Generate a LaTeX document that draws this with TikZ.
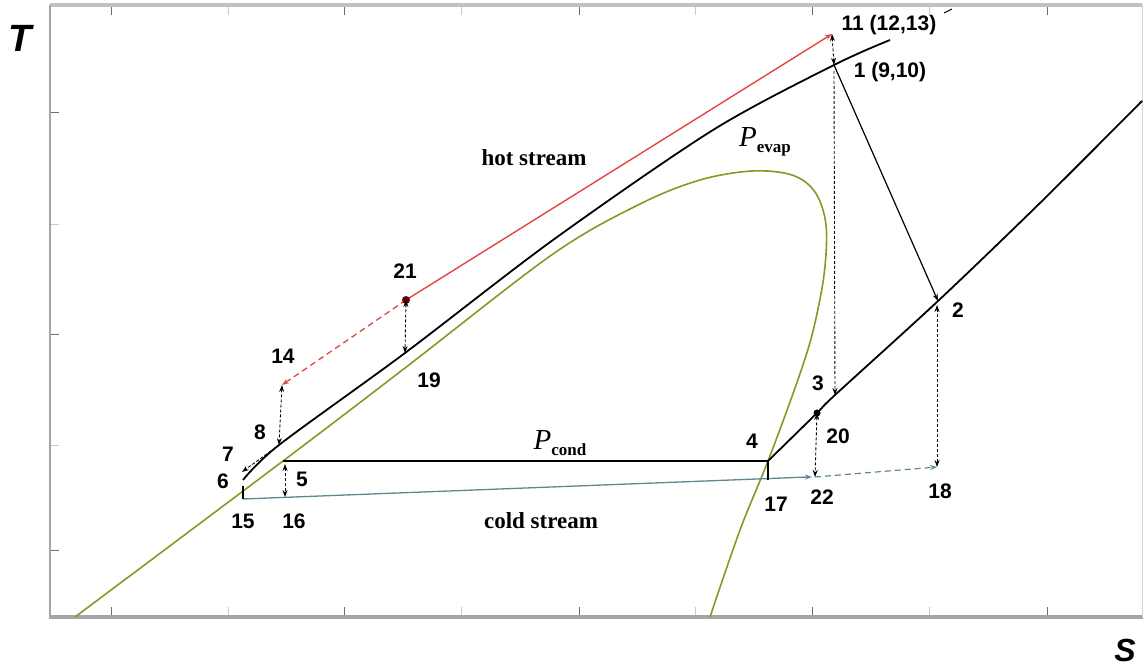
\documentclass[tikz,border=0pt]{standalone}
\usepackage{fontspec}
\setmainfont{Liberation Serif}
\newfontfamily\labfont{Liberation Sans}
\usetikzlibrary{arrows.meta}
\definecolor{domec}{RGB}{140,150,35}
\definecolor{hotc}{RGB}{225,70,70}
\definecolor{coldc}{RGB}{95,135,145}
\definecolor{axisc}{RGB}{165,165,165}
\definecolor{tickc}{RGB}{110,110,110}
\begin{document}
\begin{tikzpicture}[x=1pt,y=-1pt,
  lbl/.style={font=\labfont\bfseries\fontsize{21}{24}\selectfont, inner sep=0pt},
  ser/.style={font=\bfseries\fontsize{23}{26}\selectfont, inner sep=0pt},
  tip/.style={-{Stealth[length=7pt,width=5pt]}},
  dtip/.style={{Stealth[length=7pt,width=5pt]}-{Stealth[length=7pt,width=5pt]}},
  dots/.style={dash pattern=on 3pt off 2pt, line width=0.9pt},
  curve/.style={line width=1.8pt},
  tick/.style={tickc, line width=1pt},
  ftick/.style={axisc!60, line width=1pt}]
\useasboundingbox (0,0) rectangle (1144,668);
% frame
\draw[axisc!70, line width=4pt] (50,5) -- (1142,5);
\draw[axisc, line width=2pt] (50,5) -- (50,617);
\draw[axisc, line width=4pt] (49,617) -- (1143,617);
\draw[axisc!50, line width=1pt] (1142,5) -- (1142,617);
% ticks
\foreach \x in {111,344,579,812,1047}{\draw[tick] (\x,7) -- (\x,15); \draw[tick] (\x,615) -- (\x,607);}
\foreach \x in {228,461,695,929}{\draw[ftick] (\x,7) -- (\x,15); \draw[ftick] (\x,615) -- (\x,607);}
\foreach \y in {113,335,550}{\draw[tick] (51,\y) -- (59,\y);}
\foreach \y in {225,445}{\draw[ftick] (51,\y) -- (59,\y);}
% points
\coordinate (n1) at (834,65);
\coordinate (n11) at (832,34);
\coordinate (n2) at (938,301);
\coordinate (n3) at (835,395);
\coordinate (n4) at (768,461);
\coordinate (n5) at (283,461);
\coordinate (n6) at (243,480);
\coordinate (n8) at (279,445);
\coordinate (n14) at (282,385);
\coordinate (n15) at (243,499);
\coordinate (n15t) at (243,486);
\coordinate (n16) at (285,497);
\coordinate (n16t) at (285,464);
\coordinate (n17) at (768,480);
\coordinate (n18) at (937,467);
\coordinate (n18t) at (937,305);
\coordinate (n19) at (405,353);
\coordinate (n20) at (817,413);
\coordinate (n21) at (406,300);
\coordinate (n22) at (815,477);
\coordinate (n22s) at (808,477);
\coordinate (n1b) at (834,71);
\coordinate (n7e) at (242,472);
% saturation dome
\draw[domec, line width=1.6pt] plot[smooth, tension=0.55] coordinates {(75,617) (283,461) (405,368) (553,254) (640,204) (700,180) (752,171) (792,175) (815,192) (826,225) (824,275) (812,335) (795,388) (768,461) (740,530) (710,617)};
% cold stream
\draw[coldc, line width=1.3pt] (n15) -- (n22s);
\draw[coldc, line width=1.3pt, tip] (n22s) -- ++(4,0);
\draw[coldc, line width=1.2pt, dash pattern=on 6pt off 4pt, tip] (n22) -- (n18);
\draw[black, line width=1.3pt] (n15t) -- (n15);
\draw[black, line width=1.3pt] (n4) -- (n17);
% Pcond
\draw[black, line width=1.6pt] (n5) -- (n4);
% high pressure line
\draw[black, curve] plot[smooth, tension=0.5] coordinates {(n6) (n8) (n19) (553,240) (713,130) (n1) (890,40)};
% low pressure line
\draw[black, curve] plot[smooth, tension=0.5] coordinates {(n4) (n20) (n3) (n2) (1040,203) (1142,101)};
\draw[black, line width=1pt] (944,13) -- (952,9);
% hot stream
\draw[hotc, line width=1.4pt, tip] (n21) -- (n11);
\draw[hotc, line width=1.3pt, dash pattern=on 6pt off 4pt, tip] (n21) -- (n14);
\fill[black!60!red] (n21) circle (4pt);
\fill[black] (n20) circle (3.5pt);
% expansion
\draw[black, line width=1.2pt, tip] (n1) -- (n2);
% dotted arrows
\draw[dots, dtip] (n11) -- (n1);
\draw[dots, tip] (n1b) -- (n3);
\draw[dots, dtip] (n21) -- (n19);
\draw[dots, dtip] (n14) -- (n8);
\draw[dots, tip] (n8) -- (n7e);
\draw[dots, dtip] (n16t) -- (n16);
\draw[dots, dtip] (n20) -- (n22);
\draw[dots, dtip] (n18t) -- (n18);
% labels
\node[lbl] (l11) at (889,25) {11 (12,13)};
\node[lbl] (l1) at (890,72) {1 (9,10)};
\node[lbl] (l2) at (958,310) {2};
\node[lbl] (l3) at (818,383) {3};
\node[lbl] (l4) at (752,441) {4};
\node[lbl] (l20) at (838,436) {20};
\node[lbl] (l22) at (822,497) {22};
\node[lbl] (l17) at (776,504) {17};
\node[lbl] (l18) at (940,491) {18};
\node[lbl] (l21) at (405,271) {21};
\node[lbl] (l19) at (429,380) {19};
\node[lbl] (l14) at (283,356) {14};
\node[lbl] (l8) at (260,432) {8};
\node[lbl] (l7) at (228,454) {7};
\node[lbl] (l6) at (223,481) {6};
\node[lbl] (l5) at (302,479) {5};
\node[lbl] (l15) at (243,521) {15};
\node[lbl] (l16) at (294,521) {16};
\node[ser] (lhot) at (534,158) {hot stream};
\node[ser] (lcold) at (541,521) {cold stream};
\node[inner sep=0pt] (lpe) at (765,142) {\fontsize{29}{30}\selectfont\itshape P\raisebox{-6pt}{\fontsize{17}{18}\selectfont\upshape\bfseries evap}};
\node[inner sep=0pt] (lpc) at (560,443) {\fontsize{29}{30}\selectfont\itshape P\raisebox{-6pt}{\fontsize{17}{18}\selectfont\upshape\bfseries cond}};
\node[inner sep=0pt, font=\labfont\bfseries\itshape\fontsize{38}{40}\selectfont] (lT) at (20,38) {T};
\node[inner sep=0pt, font=\labfont\bfseries\itshape\fontsize{32}{34}\selectfont] (lS) at (1125,650) {S};
\end{tikzpicture}
\end{document}
